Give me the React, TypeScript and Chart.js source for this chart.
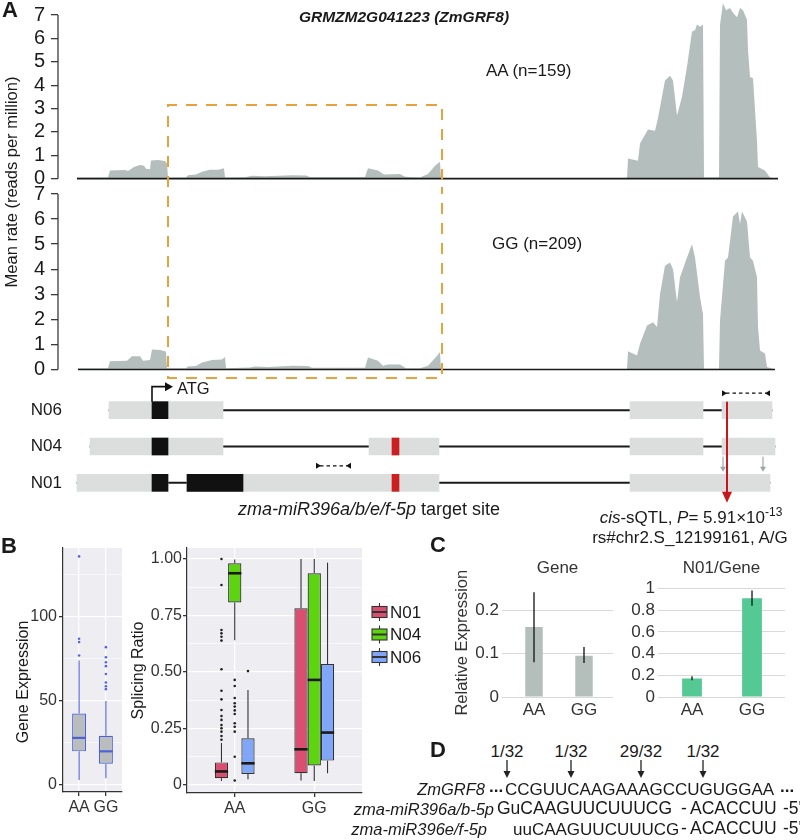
import React, { useEffect, useRef } from 'react';
import { Chart, registerables } from 'chart.js';

Chart.register(...registerables);

const FONT = "'Liberation Sans', Arial, Helvetica, sans-serif";
Chart.defaults.font.family = FONT;

// ================= Panel A: mean read coverage (position along gene, RPM) =================
const rateTicks = [0, 1, 2, 3, 4, 5, 6, 7];
const aaPositions = [
  0, 31, 33, 48, 51, 57, 63, 67, 69, 73,
  74, 81, 88, 90, 91, 109, 111, 119, 125, 133,
  141, 147, 148, 168, 175, 188, 215, 229, 233, 288,
  291, 301, 307, 323, 328, 343, 351, 358, 363, 364,
  550, 551, 561, 563, 571, 578, 581, 588, 593, 596,
  600, 605, 610, 615, 618, 620, 623, 626, 627, 642,
  643, 646, 649, 653, 656, 660, 663, 666, 670, 671,
  673, 676, 680, 681, 688, 693, 700,
];
const aaRates = [
  0.05, 0.05, 0.35, 0.37, 0.33, 0.5, 0.58, 0.55, 0.42, 0.4,
  0.78, 0.8, 0.76, 0.65, 0.05, 0.05, 0.15, 0.18, 0.3, 0.38,
  0.38, 0.45, 0.05, 0.06, 0.12, 0.1, 0.15, 0.14, 0.07, 0.07,
  0.45, 0.35, 0.18, 0.2, 0.08, 0.05, 0.2, 0.55, 0.72, 0.02,
  0.02, 0.86, 0.77, 1.5, 2.1, 2.05, 2.6, 4.2, 4.4, 4.2,
  2.7, 3.5, 4.8, 6.3, 6.35, 6.6, 6.5, 6.6, 0.05, 0.05,
  6.6, 7.5, 7.2, 7.3, 7.1, 6.9, 7.3, 7.2, 6.8, 5.5,
  4.35, 4.3, 1.6, 0.5, 0.35, 0.05, 0,
];
const ggPositions = [
  1, 31, 33, 50, 55, 63, 66, 73, 75, 83,
  89, 90, 109, 111, 119, 125, 135, 145, 148, 149,
  173, 178, 191, 216, 231, 235, 288, 291, 301, 306,
  311, 323, 329, 343, 351, 359, 363, 364, 550, 551,
  560, 563, 570, 576, 580, 583, 588, 593, 596, 600,
  603, 610, 615, 618, 623, 626, 627, 642, 643, 648,
  651, 656, 661, 663, 665, 670, 673, 676, 680, 681,
  683, 688, 690, 698,
];
const ggRates = [
  0.05, 0.05, 0.33, 0.35, 0.53, 0.53, 0.35, 0.38, 0.8, 0.78,
  0.72, 0.05, 0.05, 0.12, 0.14, 0.28, 0.38, 0.4, 0.5, 0.05,
  0.08, 0.12, 0.1, 0.15, 0.14, 0.07, 0.07, 0.48, 0.35, 0.15,
  0.2, 0.2, 0.05, 0.05, 0.15, 0.5, 0.7, 0.02, 0.02, 0.73,
  0.56, 1.03, 1.75, 1.88, 1.69, 3.0, 4.14, 4.27, 4.0, 2.68,
  3.68, 4.47, 5.0, 4.47, 2.88, 2.2, 0.03, 0.03, 1.95, 4.34,
  4.47, 6.1, 6.3, 5.8, 6.3, 5.9, 4.47, 4.34, 3.68, 1.69,
  0.76, 0.64, 0.1, 0,
];
const aaBaseline = [0, 701];
const ggBaseline = [1, 698];
const highlightRange = [91, 365];
const highlightTopRate = 3.15;
const highlightBottomRate = -0.34;

// gene models (same position axis)
const isoformRows = ['N06', 'N04', 'N01'];
const intronSpans = [[32, 695], [13, 698], [0, 693]];
const exon1Spans = [[32, 146], [13, 146], [0, 91]];
const exon2Spans = [[553, 626], [292, 362], [110, 362]];
const exon3Spans = [[645, 695], [553, 626], [553, 693]];
const exon4Spans = [null, [645, 698], null];
const cds1Spans = [[75, 91], [75, 91], [75, 91]];
const cds2Spans = [null, null, [110, 166]];
const targetSiteSpans = [null, [315, 322], [315, 322]];
const atgPosition = 75;
const primerPairs = [
  { row: 'N06', from: 645, to: 693 },
  { row: 'N01', from: 239, to: 274 },
];
const sqtlPosition = 650;
const spliceMarks = [646, 686];

// ================= Panel B =================
const genotypes = ['AA', 'GG'];
// [lower whisker, Q1, median, Q3, upper whisker]
const geneExprStats = [[3, 20, 28, 42.5, 74], [4, 12.6, 20, 29.3, 50]];
const geneExprOutliers = [[77, 85, 87, 136], [57, 58.7, 61, 66, 70.7, 73, 76, 82]];
const isoforms = ['N01', 'N04', 'N06'];
const n01Stats = [[0.018, 0.03, 0.06, 0.1, 0.186], [0.02, 0.052, 0.158, 0.782, 1.0]];
const n04Stats = [[0.64, 0.808, 0.937, 0.981, 0.998], [0.018, 0.086, 0.465, 0.937, 1.0]];
const n06Stats = [[0.025, 0.049, 0.096, 0.207, 0.42], [0.052, 0.108, 0.232, 0.535, 0.984]];
const n01Outliers = [[0.2, 0.217, 0.236, 0.251, 0.265, 0.288, 0.305, 0.332, 0.379, 0.417, 0.512, 0.639, 0.656, 0.671, 0.686, 0.885, 1.0], []];
const n04Outliers = [[0.02, 0.125, 0.236, 0.258, 0.273, 0.314, 0.33, 0.347, 0.362, 0.385, 0.438, 0.465], []];
const n06Outliers = [[0.504], []];

// ================= Panel C =================
const qpcrGenotypes = ['AA', 'GG'];
const geneRelExpr = [0.161, 0.095];
const geneRelExprErr = [[0.08, 0.241], [0.078, 0.115]];
const n01Ratio = [0.17, 0.91];
const n01RatioErr = [[0.155, 0.19], [0.84, 0.98]];

// ================= styles =================
const COVER = '#B4BEBC';
const EXON = '#DCDEDE';
const AXIS = '#3a3a3a';
const ORANGE = '#E6A23C';
const RED = '#C8161D';
const ISO_COLORS = ['#DA4F70', '#5DD410', '#80A6F7'];
const BLUE = '#4F61D8';
const PANEL_BG = '#EDEDF2';

function seg(ctx: CanvasRenderingContext2D, x0: number, y0: number, x1: number, y1: number) {
  ctx.beginPath();
  ctx.moveTo(x0, y0);
  ctx.lineTo(x1, y1);
  ctx.stroke();
}
function tri(ctx: CanvasRenderingContext2D, p: number[]) {
  ctx.beginPath();
  ctx.moveTo(p[0], p[1]);
  ctx.lineTo(p[2], p[3]);
  ctx.lineTo(p[4], p[5]);
  ctx.closePath();
  ctx.fill();
}

function coverageDecor(part: 'top' | 'bottom') {
  return {
    id: 'coverageDecor',
    afterDraw(chart: any) {
      const { ctx, chartArea, scales } = chart;
      const x = scales.x;
      const y = scales.y;
      ctx.save();
      ctx.strokeStyle = AXIS;
      ctx.lineWidth = 1.3;
      seg(ctx, chartArea.left, y.getPixelForValue(rateTicks[0]), chartArea.left, y.getPixelForValue(rateTicks[rateTicks.length - 1]));
      const xl = x.getPixelForValue(highlightRange[0]);
      const xr = x.getPixelForValue(highlightRange[1]);
      ctx.strokeStyle = ORANGE;
      ctx.lineWidth = 2;
      ctx.setLineDash([11, 9]);
      ctx.beginPath();
      if (part === 'top') {
        const yt = y.getPixelForValue(highlightTopRate);
        const yb = chartArea.bottom + 6;
        ctx.moveTo(xl, yb);
        ctx.lineTo(xl, yt);
        ctx.lineTo(xr, yt);
        ctx.lineTo(xr, yb);
      } else {
        ctx.lineDashOffset = 11;
        const yt = chartArea.top - 7;
        const yb = y.getPixelForValue(highlightBottomRate);
        ctx.moveTo(xl, yt);
        ctx.lineTo(xl, yb);
        ctx.lineTo(xr, yb);
        ctx.lineTo(xr, yt);
      }
      ctx.stroke();
      ctx.restore();
    },
  };
}

function coverageConfig(positions: number[], rates: number[], baseline: number[], label: string, yMax: number, part: 'top' | 'bottom') {
  return {
    type: 'line',
    data: {
      datasets: [
        {
          label,
          data: positions.map((p, i) => ({ x: p, y: rates[i] })),
          fill: 'origin',
          backgroundColor: COVER,
          borderColor: 'rgba(0,0,0,0)',
          borderWidth: 0,
          pointRadius: 0,
          tension: 0,
          order: 2,
        },
        {
          label: 'baseline',
          data: baseline.map((p) => ({ x: p, y: 0 })),
          borderColor: '#1a1a1a',
          borderWidth: 1.6,
          pointRadius: 0,
          fill: false,
          order: 1,
        },
      ],
    },
    options: {
      responsive: false,
      maintainAspectRatio: false,
      animation: false,
      events: [],
      layout: { padding: { top: 30, bottom: 30, left: 0, right: 2 } },
      plugins: { legend: { display: false }, tooltip: { enabled: false } },
      scales: {
        x: { type: 'linear', min: -19, max: 701, display: false },
        y: {
          type: 'linear',
          min: -0.1,
          max: yMax,
          afterFit: (s: any) => { s.width = 58; },
          grid: { drawOnChartArea: false, drawTicks: true, tickLength: 7, color: AXIS, lineWidth: 1.3 },
          border: { display: false },
          ticks: { stepSize: 1, includeBounds: false, autoSkip: false, padding: 6, color: '#1a1a1a', font: { family: FONT, size: 20 } },
        },
      },
    },
    plugins: [coverageDecor(part)],
  };
}

const geneDecor = {
  id: 'geneDecor',
  afterDatasetsDraw(chart: any) {
    const { ctx, scales } = chart;
    const x = scales.x;
    const y = scales.y;
    const half = 8.5;
    const rowY = (r: string) => y.getPixelForValue(isoformRows.indexOf(r));
    ctx.save();
    // ATG bent arrow
    const xa = x.getPixelForValue(atgPosition);
    const yTop = rowY('N06') - half;
    ctx.strokeStyle = '#111';
    ctx.fillStyle = '#111';
    ctx.lineWidth = 1.6;
    ctx.beginPath();
    ctx.moveTo(xa, yTop);
    ctx.lineTo(xa, yTop - 15);
    ctx.lineTo(xa + 14, yTop - 15);
    ctx.stroke();
    tri(ctx, [xa + 13, yTop - 19.5, xa + 13, yTop - 10.5, xa + 21, yTop - 15]);
    // primer pairs
    primerPairs.forEach((p) => {
      const yy = rowY(p.row) - 17;
      const x0 = x.getPixelForValue(p.from);
      const x1 = x.getPixelForValue(p.to);
      ctx.lineWidth = 1.2;
      ctx.setLineDash([3.5, 3]);
      seg(ctx, x0 + 4, yy, x1 - 4, yy);
      ctx.setLineDash([]);
      tri(ctx, [x0, yy - 3, x0, yy + 3, x0 + 5, yy]);
      tri(ctx, [x1, yy - 3, x1, yy + 3, x1 - 5, yy]);
    });
    // splice marks (gray)
    ctx.strokeStyle = '#9EA7A6';
    ctx.fillStyle = '#9EA7A6';
    ctx.lineWidth = 1.2;
    spliceMarks.forEach((p) => {
      const xg = x.getPixelForValue(p);
      const y0 = rowY('N01') - 26;
      const y1 = rowY('N01') - 11;
      seg(ctx, xg, y0, xg, y1 - 4);
      tri(ctx, [xg - 3, y1 - 5, xg + 3, y1 - 5, xg, y1]);
    });
    // sQTL red arrow
    const xs = x.getPixelForValue(sqtlPosition);
    const tip = rowY('N01') + 20;
    ctx.strokeStyle = RED;
    ctx.fillStyle = RED;
    ctx.lineWidth = 2;
    seg(ctx, xs, rowY('N06') - half, xs, tip - 8);
    tri(ctx, [xs - 5, tip - 11, xs + 5, tip - 11, xs, tip]);
    ctx.restore();
  },
};

const geneConfig = () => {
  const bar = (label: string, data: any[], color: string, thickness: number, order: number) => ({
    label, data, backgroundColor: color, barThickness: thickness, order,
    grouped: false, borderWidth: 0, borderSkipped: false,
  });
  return {
    type: 'bar',
    data: {
      labels: isoformRows,
      datasets: [
        bar('intron', intronSpans, '#1a1a1a', 1.4, 9),
        bar('exon 1', exon1Spans, EXON, 17, 5),
        bar('exon 2', exon2Spans, EXON, 17, 5),
        bar('exon 3', exon3Spans, EXON, 17, 5),
        bar('exon 4', exon4Spans, EXON, 17, 5),
        bar('CDS 1', cds1Spans, '#111', 17, 3),
        bar('CDS 2', cds2Spans, '#111', 17, 3),
        bar('miR396 target site', targetSiteSpans, '#CC1F1F', 17, 1),
      ],
    },
    options: {
      indexAxis: 'y',
      responsive: false,
      maintainAspectRatio: false,
      animation: false,
      events: [],
      layout: { padding: { top: 30, bottom: 30, left: 0, right: 2 } },
      plugins: { legend: { display: false }, tooltip: { enabled: false } },
      scales: {
        x: { type: 'linear', min: -7, max: 701, display: false },
        y: {
          type: 'category',
          afterFit: (s: any) => { s.width = 70; },
          grid: { display: false, drawTicks: false },
          border: { display: false },
          ticks: { padding: 8, color: '#1a1a1a', font: { family: FONT, size: 17 } },
        },
      },
    },
    plugins: [geneDecor],
  };
};

// ---- box plot helpers ----
const panelBg = {
  id: 'panelBg',
  beforeDraw(chart: any) {
    const { ctx, chartArea } = chart;
    ctx.save();
    ctx.fillStyle = PANEL_BG;
    ctx.fillRect(chartArea.left, chartArea.top, chartArea.right - chartArea.left, chartArea.bottom - chartArea.top);
    ctx.restore();
  },
};

const boxWhiskers = {
  id: 'boxWhiskers',
  afterDatasetsDraw(chart: any) {
    const { ctx } = chart;
    const y = chart.scales.y;
    chart.data.datasets.forEach((ds: any, di: number) => {
      const meta = chart.getDatasetMeta(di);
      meta.data.forEach((el: any, i: number) => {
        const s = ds.stats[i];
        const { x, width } = el.getProps(['x', 'width'], true);
        ctx.save();
        ctx.strokeStyle = ds.whiskerColor;
        ctx.lineWidth = 1.1;
        seg(ctx, x, y.getPixelForValue(s[0]), x, y.getPixelForValue(s[1]));
        seg(ctx, x, y.getPixelForValue(s[3]), x, y.getPixelForValue(s[4]));
        ctx.strokeStyle = ds.medianColor;
        ctx.lineWidth = ds.medianWidth;
        seg(ctx, x - width / 2, y.getPixelForValue(s[2]), x + width / 2, y.getPixelForValue(s[2]));
        ctx.fillStyle = ds.outlierColor;
        ds.outliers[i].forEach((v: number) => {
          ctx.beginPath();
          ctx.arc(x, y.getPixelForValue(v), 1.3, 0, Math.PI * 2);
          ctx.fill();
        });
        ctx.restore();
      });
    });
  },
};

const isMajor = (v: number, step: number) => Math.abs(v / step - Math.round(v / step)) < 1e-6;

function genotypeAxis(fontSize: number) {
  return {
    type: 'linear',
    min: 0.4,
    max: 2.6,
    offset: false,
    afterFit: (s: any) => { s.height = 30; },
    grid: { offset: false, color: '#ffffff', lineWidth: 1.3, drawTicks: true, tickLength: 4, tickColor: '#333' },
    border: { display: true, color: '#333', width: 1.2 },
    ticks: {
      stepSize: 1,
      includeBounds: false,
      autoSkip: false,
      padding: 2,
      color: '#333',
      font: { family: FONT, size: fontSize },
      callback: (v: number) => genotypes[v - 1] ?? '',
    },
  };
}

const geneExprConfig = () => ({
  type: 'bar',
  data: {
    datasets: [
      {
        label: 'Gene Expression',
        data: genotypes.map((_, i) => ({ x: i + 1, y: [geneExprStats[i][1], geneExprStats[i][3]] })),
        backgroundColor: '#B9BDBD',
        borderColor: BLUE,
        borderWidth: 1.2,
        borderSkipped: false,
        categoryPercentage: 0.52,
        barPercentage: 1,
        stats: geneExprStats,
        outliers: geneExprOutliers,
        whiskerColor: BLUE,
        medianColor: BLUE,
        medianWidth: 2.2,
        outlierColor: '#5567DA',
      },
    ],
  },
  options: {
    responsive: false,
    maintainAspectRatio: false,
    animation: false,
    events: [],
    layout: { padding: { top: 30, bottom: 0, left: 0, right: 2 } },
    plugins: { legend: { display: false }, tooltip: { enabled: false } },
    scales: {
      x: genotypeAxis(16),
      y: {
        type: 'linear',
        min: -4.2,
        max: 141,
        afterFit: (s: any) => { s.width = 63; },
        grid: {
          color: '#ffffff',
          lineWidth: (c: any) => (c.tick && isMajor(c.tick.value, 50) ? 1.3 : 0.6),
          tickLength: 4,
          tickColor: (c: any) => (c.tick && isMajor(c.tick.value, 50) ? '#333' : 'rgba(0,0,0,0)'),
        },
        border: { display: true, color: '#333', width: 1.2 },
        ticks: {
          stepSize: 25,
          includeBounds: false,
          autoSkip: false,
          padding: 2,
          color: '#333',
          font: { family: FONT, size: 16 },
          callback: (v: number) => (isMajor(v, 50) ? String(v) : ''),
        },
      },
    },
  },
  plugins: [panelBg, boxWhiskers],
});

const boxLegend = {
  id: 'boxLegend',
  afterDraw(chart: any) {
    const { ctx, chartArea } = chart;
    ctx.save();
    chart.data.datasets.forEach((ds: any, k: number) => {
      const cy = chartArea.top + 64 + k * 22.5;
      const x0 = chartArea.right + 10;
      ctx.strokeStyle = '#333';
      ctx.lineWidth = 1.1;
      seg(ctx, x0 + 7.5, cy - 9, x0 + 7.5, cy + 9);
      ctx.fillStyle = ds.backgroundColor;
      ctx.fillRect(x0, cy - 5.5, 15, 11);
      ctx.strokeRect(x0, cy - 5.5, 15, 11);
      ctx.lineWidth = 2;
      seg(ctx, x0, cy, x0 + 15, cy);
      ctx.fillStyle = '#1a1a1a';
      ctx.font = `17px ${FONT}`;
      ctx.textBaseline = 'middle';
      ctx.fillText(ds.label, x0 + 18, cy + 1);
    });
    ctx.restore();
  },
};

const splicingConfig = () => {
  const stats = [n01Stats, n04Stats, n06Stats];
  const outs = [n01Outliers, n04Outliers, n06Outliers];
  return {
    type: 'bar',
    data: {
      datasets: isoforms.map((iso, k) => ({
        label: iso,
        data: genotypes.map((_, i) => ({ x: i + 1, y: [stats[k][i][1], stats[k][i][3]] })),
        backgroundColor: ISO_COLORS[k],
        borderColor: '#333',
        borderWidth: 1.2,
        borderSkipped: false,
        categoryPercentage: 0.5,
        barPercentage: 1,
        stats: stats[k],
        outliers: outs[k],
        whiskerColor: '#333',
        medianColor: '#1a1a1a',
        medianWidth: 2.6,
        outlierColor: '#222',
      })),
    },
    options: {
      responsive: false,
      maintainAspectRatio: false,
      animation: false,
      events: [],
      layout: { padding: { top: 30, bottom: 0, left: 0, right: 60 } },
      plugins: { legend: { display: false }, tooltip: { enabled: false } },
      scales: {
        x: genotypeAxis(16),
        y: {
          type: 'linear',
          min: -0.0354,
          max: 1.0487,
          afterFit: (s: any) => { s.width = 60; },
          title: { display: true, text: 'Splicing Ratio', color: '#1a1a1a', font: { family: FONT, size: 16 }, padding: { top: 2.4, bottom: 0 } },
          grid: {
            color: '#ffffff',
            lineWidth: (c: any) => (c.tick && isMajor(c.tick.value, 0.25) ? 1.3 : 0.6),
            tickLength: 4,
            tickColor: (c: any) => (c.tick && isMajor(c.tick.value, 0.25) ? '#333' : 'rgba(0,0,0,0)'),
          },
          border: { display: true, color: '#333', width: 1.2 },
          ticks: {
            stepSize: 0.125,
            includeBounds: false,
            autoSkip: false,
            padding: 1,
            color: '#333',
            font: { family: FONT, size: 16 },
            callback: (v: number) => (isMajor(v, 0.25) ? (Math.abs(v) < 1e-9 ? '0' : v.toFixed(2)) : ''),
          },
        },
      },
    },
    plugins: [panelBg, boxWhiskers, boxLegend],
  };
};

// ---- panel C ----
const errorBars = {
  id: 'errorBars',
  afterDatasetsDraw(chart: any) {
    const { ctx } = chart;
    const y = chart.scales.y;
    chart.data.datasets.forEach((ds: any, di: number) => {
      chart.getDatasetMeta(di).data.forEach((el: any, i: number) => {
        const e = ds.errors[i];
        ctx.save();
        ctx.strokeStyle = '#111';
        ctx.lineWidth = 1.3;
        seg(ctx, el.x, y.getPixelForValue(e[0]), el.x, y.getPixelForValue(e[1]));
        ctx.restore();
      });
    });
  },
};

function qpcrConfig(title: string, values: number[], errors: number[][], color: string, xMin: number, xMax: number, yMax: number, step: number, catPct: number, yWidth: number, yTitle?: string) {
  return {
    type: 'bar',
    data: {
      datasets: [
        {
          label: title,
          data: qpcrGenotypes.map((_, i) => ({ x: i + 1, y: values[i] })),
          backgroundColor: color,
          categoryPercentage: catPct,
          barPercentage: 1,
          errors,
        },
      ],
    },
    options: {
      responsive: false,
      maintainAspectRatio: false,
      animation: false,
      events: [],
      layout: { padding: { top: 0, bottom: 0, left: 0, right: 4 } },
      plugins: {
        legend: { display: false },
        tooltip: { enabled: false },
        title: { display: true, text: title, fullSize: false, color: '#333', font: { family: FONT, size: 17, weight: 'normal' }, padding: { top: 3, bottom: 10 } },
      },
      scales: {
        x: {
          type: 'linear',
          min: xMin,
          max: xMax,
          offset: false,
          afterFit: (s: any) => { s.height = 30; },
          grid: { display: false, drawTicks: false },
          border: { display: false },
          ticks: { stepSize: 1, includeBounds: false, autoSkip: false, padding: 3, color: '#333', font: { family: FONT, size: 17 }, callback: (v: number) => qpcrGenotypes[v - 1] ?? '' },
        },
        y: {
          type: 'linear',
          min: 0,
          max: yMax,
          afterFit: (s: any) => { s.width = yWidth; },
          title: yTitle
            ? { display: true, text: yTitle, color: '#333', font: { family: FONT, size: 16.5 }, padding: { top: 13, bottom: 0 } }
            : { display: false },
          grid: { color: '#D9D9D9', lineWidth: 1, drawTicks: false },
          border: { display: false },
          ticks: {
            stepSize: step,
            includeBounds: false,
            autoSkip: false,
            padding: 3,
            color: '#333',
            font: { family: FONT, size: 17 },
            callback: (v: number) => String(Math.round(v * 100) / 100),
          },
        },
      },
    },
    plugins: [errorBars],
  };
}

const aaConfig = () => coverageConfig(aaPositions, aaRates, aaBaseline, 'AA (n=159)', 7.6, 'top');
const ggConfig = () => coverageConfig(ggPositions, ggRates, ggBaseline, 'GG (n=209)', 7.0, 'bottom');
const geneQpcrConfig = () => qpcrConfig('Gene', geneRelExpr, geneRelExprErr, '#B4BFBC', 0.36, 2.58, 0.25, 0.1, 0.35, 62, 'Relative Expression');
const ratioQpcrConfig = () => qpcrConfig('N01/Gene', n01Ratio, n01RatioErr, '#55C993', 0.433, 2.55, 1, 0.2, 0.33, 40);

function ChartBox({ left, top, width, height, make }: { left: number; top: number; width: number; height: number; make: () => any }) {
  const ref = useRef<HTMLCanvasElement | null>(null);
  useEffect(() => {
    if (!ref.current) return;
    const chart = new Chart(ref.current, make());
    return () => chart.destroy();
  }, [make]);
  return <canvas ref={ref} width={width} height={height} style={{ position: 'absolute', left, top, width, height }} />;
}

function T({ x, y, size = 17, anchor = 'start', bold = false, italic = false, color = '#1a1a1a', children }: any) {
  const tx = anchor === 'middle' ? '-50%' : anchor === 'end' ? '-100%' : '0';
  return (
    <div style={{ position: 'absolute', left: x, top: y, transform: `translate(${tx}, -50%)`, fontSize: size, lineHeight: 1, fontWeight: bold ? 700 : 400, fontStyle: italic ? 'italic' : 'normal', whiteSpace: 'nowrap', color, fontFamily: FONT }}>
      {children}
    </div>
  );
}

function VT({ x, y, size = 16, color = '#1a1a1a', children }: any) {
  return (
    <div style={{ position: 'absolute', left: x, top: y, transform: 'translate(-50%, -50%) rotate(-90deg)', fontSize: size, lineHeight: 1.2, whiteSpace: 'nowrap', color, fontFamily: FONT }}>
      {children}
    </div>
  );
}

function DownArrow({ x }: { x: number }) {
  return (
    <svg style={{ position: 'absolute', left: x - 5, top: 760, overflow: 'visible' }} width={10} height={18}>
      <line x1={5} y1={0} x2={5} y2={13} stroke="#222" strokeWidth={1.3} />
      <polygon points="1.5,11 8.5,11 5,18" fill="#222" />
    </svg>
  );
}

const cleavageFreq = ['1/32', '1/32', '29/32', '1/32'];
const cleavageX = [507, 571, 641, 703];

export default function App() {
  return (
    <div style={{ position: 'absolute', left: 0, top: 0, width: 800, height: 840, overflow: 'hidden', background: '#fff', fontFamily: FONT }}>
      <ChartBox left={0} top={-29} width={780} height={240} make={aaConfig} />
      <ChartBox left={0} top={164} width={780} height={238} make={ggConfig} />
      <ChartBox left={0} top={362} width={780} height={169} make={geneConfig} />
      <ChartBox left={0} top={518} width={124} height={304} make={geneExprConfig} />
      <ChartBox left={127} top={518} width={295} height={305} make={splicingConfig} />
      <ChartBox left={440} top={555} width={177} height={172} make={geneQpcrConfig} />
      <ChartBox left={618} top={555} width={171} height={172} make={ratioQpcrConfig} />

      {/* Panel A texts */}
      <T x={2} y={10} size={22} bold>A</T>
      <T x={404} y={17} size={15.5} bold italic anchor="middle">GRMZM2G041223 (ZmGRF8)</T>
      <T x={486} y={70}>AA (n=159)</T>
      <T x={492} y={243}>GG (n=209)</T>
      <VT x={12} y={182} size={16.5}>Mean rate (reads per million)</VT>
      <T x={177} y={388} size={16.5}>ATG</T>
      <T x={238} y={509} size={18}><i>zma-miR396a/b/e/f-5p</i> target site</T>
      <T x={691} y={517} anchor="middle"><i>cis</i>-sQTL, <i>P</i>= 5.91×10<span style={{ fontSize: 12, position: 'relative', top: -7 }}>-13</span></T>
      <T x={690} y={537} anchor="middle">rs#chr2.S_12199161, A/G</T>

      {/* Panel B */}
      <T x={1} y={546} size={22} bold>B</T>
      <VT x={23} y={682} size={16}>Gene Expression</VT>

      {/* Panel C */}
      <T x={430} y={545} size={22} bold>C</T>

      {/* Panel D */}
      <T x={430} y={750} size={22} bold>D</T>
      {cleavageFreq.map((f, i) => (
        <T key={'f' + i} x={cleavageX[i]} y={751} anchor="middle">{f}</T>
      ))}
      {cleavageX.map((x, i) => <DownArrow key={'a' + i} x={x} />)}
      <T x={485} y={789} anchor="end" italic size={16.5}>ZmGRF8</T>
      <T x={489} y={786} bold>...</T>
      <T x={505} y={789}>CCGUUCAAGAAAGCCUGUGGAA</T>
      <T x={780} y={786} bold>...</T>
      <T x={494} y={809} anchor="end" italic size={16.5}>zma-miR396a/b-5p</T>
      <T x={497} y={809} size={17.5}>GuCAAGUUCUUUCG</T>
      <T x={681} y={809} size={17.5}>-</T>
      <T x={690} y={809} size={17.5}>ACACCUU</T>
      <T x={783} y={809} size={17.5}>-5'</T>
      <T x={487} y={829} anchor="end" italic size={16.5}>zma-miR396e/f-5p</T>
      <T x={513} y={829} size={17}>uuCAAGUUCUUUCG</T>
      <T x={681} y={829} size={17.5}>-</T>
      <T x={690} y={829} size={17.5}>ACACCUU</T>
      <T x={783} y={829} size={17.5}>-5'</T>
    </div>
  );
}
